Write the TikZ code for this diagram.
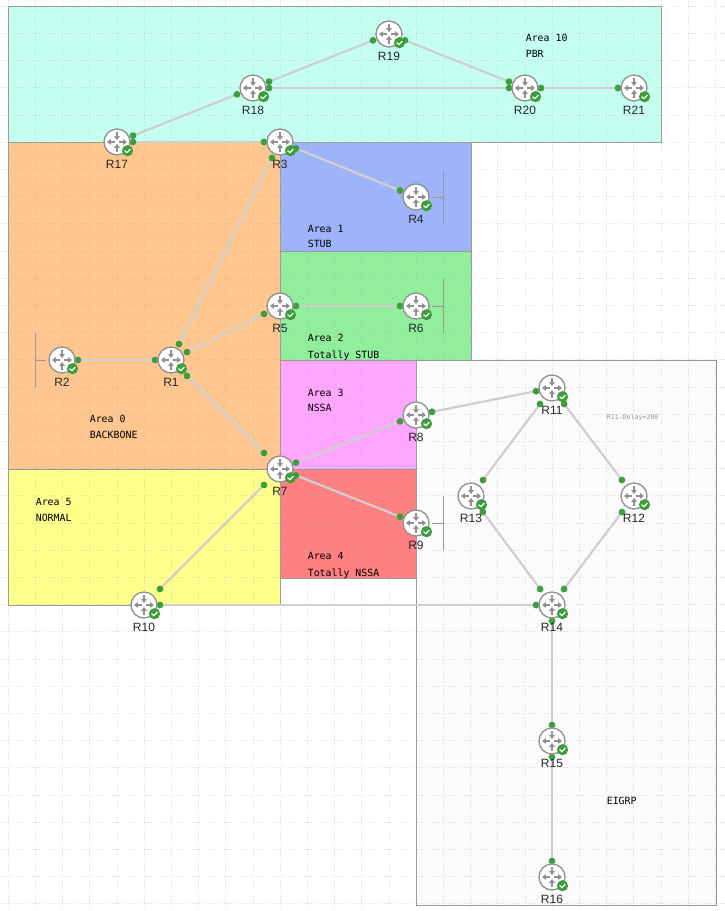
\documentclass[tikz,border=0pt]{standalone}
\usepackage{fontspec}
\setmainfont{Liberation Sans}
\newfontfamily\monof{DejaVu Sans Mono}
\definecolor{aTen}{HTML}{C4FFF0}
\definecolor{aZero}{HTML}{FFC78F}
\definecolor{aOne}{HTML}{9DB3FA}
\definecolor{aTwo}{HTML}{91EE9C}
\definecolor{aThree}{HTML}{FFA6FF}
\definecolor{aFour}{HTML}{FF8080}
\definecolor{aFive}{HTML}{FFFF8C}
\definecolor{aEig}{HTML}{FBFBFB}
\definecolor{edgeg}{HTML}{999999}
\definecolor{linkg}{HTML}{CFCFCF}
\definecolor{iconc}{HTML}{909090}
\definecolor{okg}{HTML}{3E9E3E}
\tikzset{
  x=1pt,y=-1pt,
  region/.style={draw=edgeg,line width=1pt},
  gridl/.style={draw=black!30,opacity=.3,line width=.6pt,dash pattern=on 1.6pt off 1.6pt},
  routerbox/.style={rectangle,minimum size=32pt,inner sep=0pt,outer sep=0pt},
  rlabel/.style={font=\fontsize{12}{12}\selectfont,text=black!85,inner sep=0pt},
  note/.style={font=\monof\fontsize{9.9}{10}\selectfont,anchor=base west,inner sep=0pt,text=black},
  tinynote/.style={font=\monof\fontsize{6.6}{7}\selectfont,anchor=base west,inner sep=0pt,text=black!40},
  linkl/.style={draw=linkg,line width=2.2pt},
  stubl/.style={draw=edgeg,line width=.9pt},
  linkdot/.style={circle,fill=okg,minimum size=6.8pt,inner sep=0pt,outer sep=0pt},
  routericon/.pic={
    \fill[white,draw=iconc,line width=1.3pt] (0,0) circle (13);
    \foreach \r in {0,180}{
      \begin{scope}[rotate=\r]
        \draw[iconc,line width=1.1pt] (2,0) -- (7,0);
        \fill[iconc] (10,0) -- (6.2,-2.9) -- (6.2,2.9) -- cycle;
        \draw[iconc,line width=1.1pt] (0,-10) -- (0,-6);
        \fill[iconc] (0,-2) -- (-2.9,-5.8) -- (2.9,-5.8) -- cycle;
      \end{scope}
    }
    \fill[okg] (10.5,8.7) circle (5.6);
    \draw[white,line width=1.2pt,line cap=round,line join=round] (7.8,8.8) -- (9.8,10.6) -- (13.3,7.2);
  }
}
\begin{document}
\begin{tikzpicture}
\useasboundingbox (0,0) rectangle (725,911);
\clip (0,0) rectangle (725,911);
\fill[white] (0,0) rectangle (725,911);
% regions
\path[region,fill=aEig] (416.5,360.5) rectangle (716.5,905);
\path[region,fill=aTen] (8,6.5) rectangle (661.5,142.5);
\path[region,fill=aZero] (8,142.5) rectangle (280.5,469.5);
\path[region,fill=aOne] (280.5,142.5) rectangle (471,251.5);
\path[region,fill=aTwo] (280.5,251.5) rectangle (471,360.5);
\path[region,fill=aThree] (280.5,360.5) rectangle (416.5,469.5);
\path[region,fill=aFour] (280.5,469.5) rectangle (416.5,578);
\path[region,fill=aFive] (8,469.5) rectangle (280.5,605);
% grid
\foreach \k in {0,...,26}{\draw[gridl] ({8+27.2*\k},0) -- ({8+27.2*\k},911);}
\foreach \k in {0,...,33}{\draw[gridl] (0,{6+27.2*\k}) -- (725,{6+27.2*\k});}
% routers (anchor boxes)
\foreach \n/\x/\y in {R1/171/360,R2/62/360,R3/280/142,R4/416/197,R5/280/306,R6/416/306,R7/280/469,R8/416/415,R9/416/523,R10/144/605,R11/552/388,R12/634/496,R13/471/496,R14/552/605,R15/552/741,R16/552/877,R17/117/142,R18/253/88,R19/389/34,R20/525/88,R21/634/88}{
  \node[routerbox] (\n) at (\x,\y) {};
}
% stubs
\coordinate (R2a) at (35,333); \coordinate (R2b) at (35,387); \coordinate (R2s) at (35,360);
\coordinate (R4a) at (443.5,170); \coordinate (R4b) at (443.5,224); \coordinate (R4s) at (443.5,197);
\coordinate (R6a) at (443.5,279); \coordinate (R6b) at (443.5,333); \coordinate (R6s) at (443.5,306);
\coordinate (R9a) at (443.5,496); \coordinate (R9b) at (443.5,550); \coordinate (R9s) at (443.5,523);
\foreach \n in {R2,R4,R6,R9}{
  \draw[stubl] (\n a) -- (\n b);
  \draw[stubl] (\n) -- (\n s);
}
% links
\foreach \a/\b in {R17/R18,R18/R19,R19/R20,R18/R20,R20/R21,R17/R3,R3/R4,R3/R1,R1/R5,R5/R6,R2/R1,R1/R7,R7/R8,R7/R9,R7/R10,R8/R11,R11/R13,R11/R12,R13/R14,R12/R14,R10/R14,R14/R15,R15/R16}{
  \draw[linkl] (\a) -- (\b) node[linkdot,pos=0] (d\a\b) {} node[linkdot,pos=1] (d\b\a) {};
}
% router icons and labels
\foreach \n in {R1,R2,R3,R4,R5,R6,R7,R8,R9,R10,R11,R12,R13,R14,R15,R16,R17,R18,R19,R20,R21}{
  \pic at (\n) {routericon};
  \node[rlabel] (\n l) at ([yshift=-22pt]\n.center) {\n};
}
% area notes
\node[note] (n10a) at (525.6,41.5) {Area 10};
\node[note] (n10b) at (525.6,57) {PBR};
\node[note] (n1a) at (307.6,232.5) {Area 1};
\node[note] (n1b) at (307.6,247) {STUB};
\node[note] (n2a) at (307.6,341.5) {Area 2};
\node[note] (n2b) at (307.6,358) {Totally STUB};
\node[note] (n3a) at (307.6,396) {Area 3};
\node[note] (n3b) at (307.6,411) {NSSA};
\node[note] (n4a) at (307.6,559) {Area 4};
\node[note] (n4b) at (307.6,576) {Totally NSSA};
\node[note] (n0a) at (89.6,422.5) {Area 0};
\node[note] (n0b) at (89.6,438) {BACKBONE};
\node[note] (n5a) at (35.6,505) {Area 5};
\node[note] (n5b) at (35.6,521) {NORMAL};
\node[note] (nE) at (606.6,804) {EIGRP};
\node[tinynote] (nD) at (606.6,419.5) {R11-Delay=200};
\end{tikzpicture}
\end{document}
